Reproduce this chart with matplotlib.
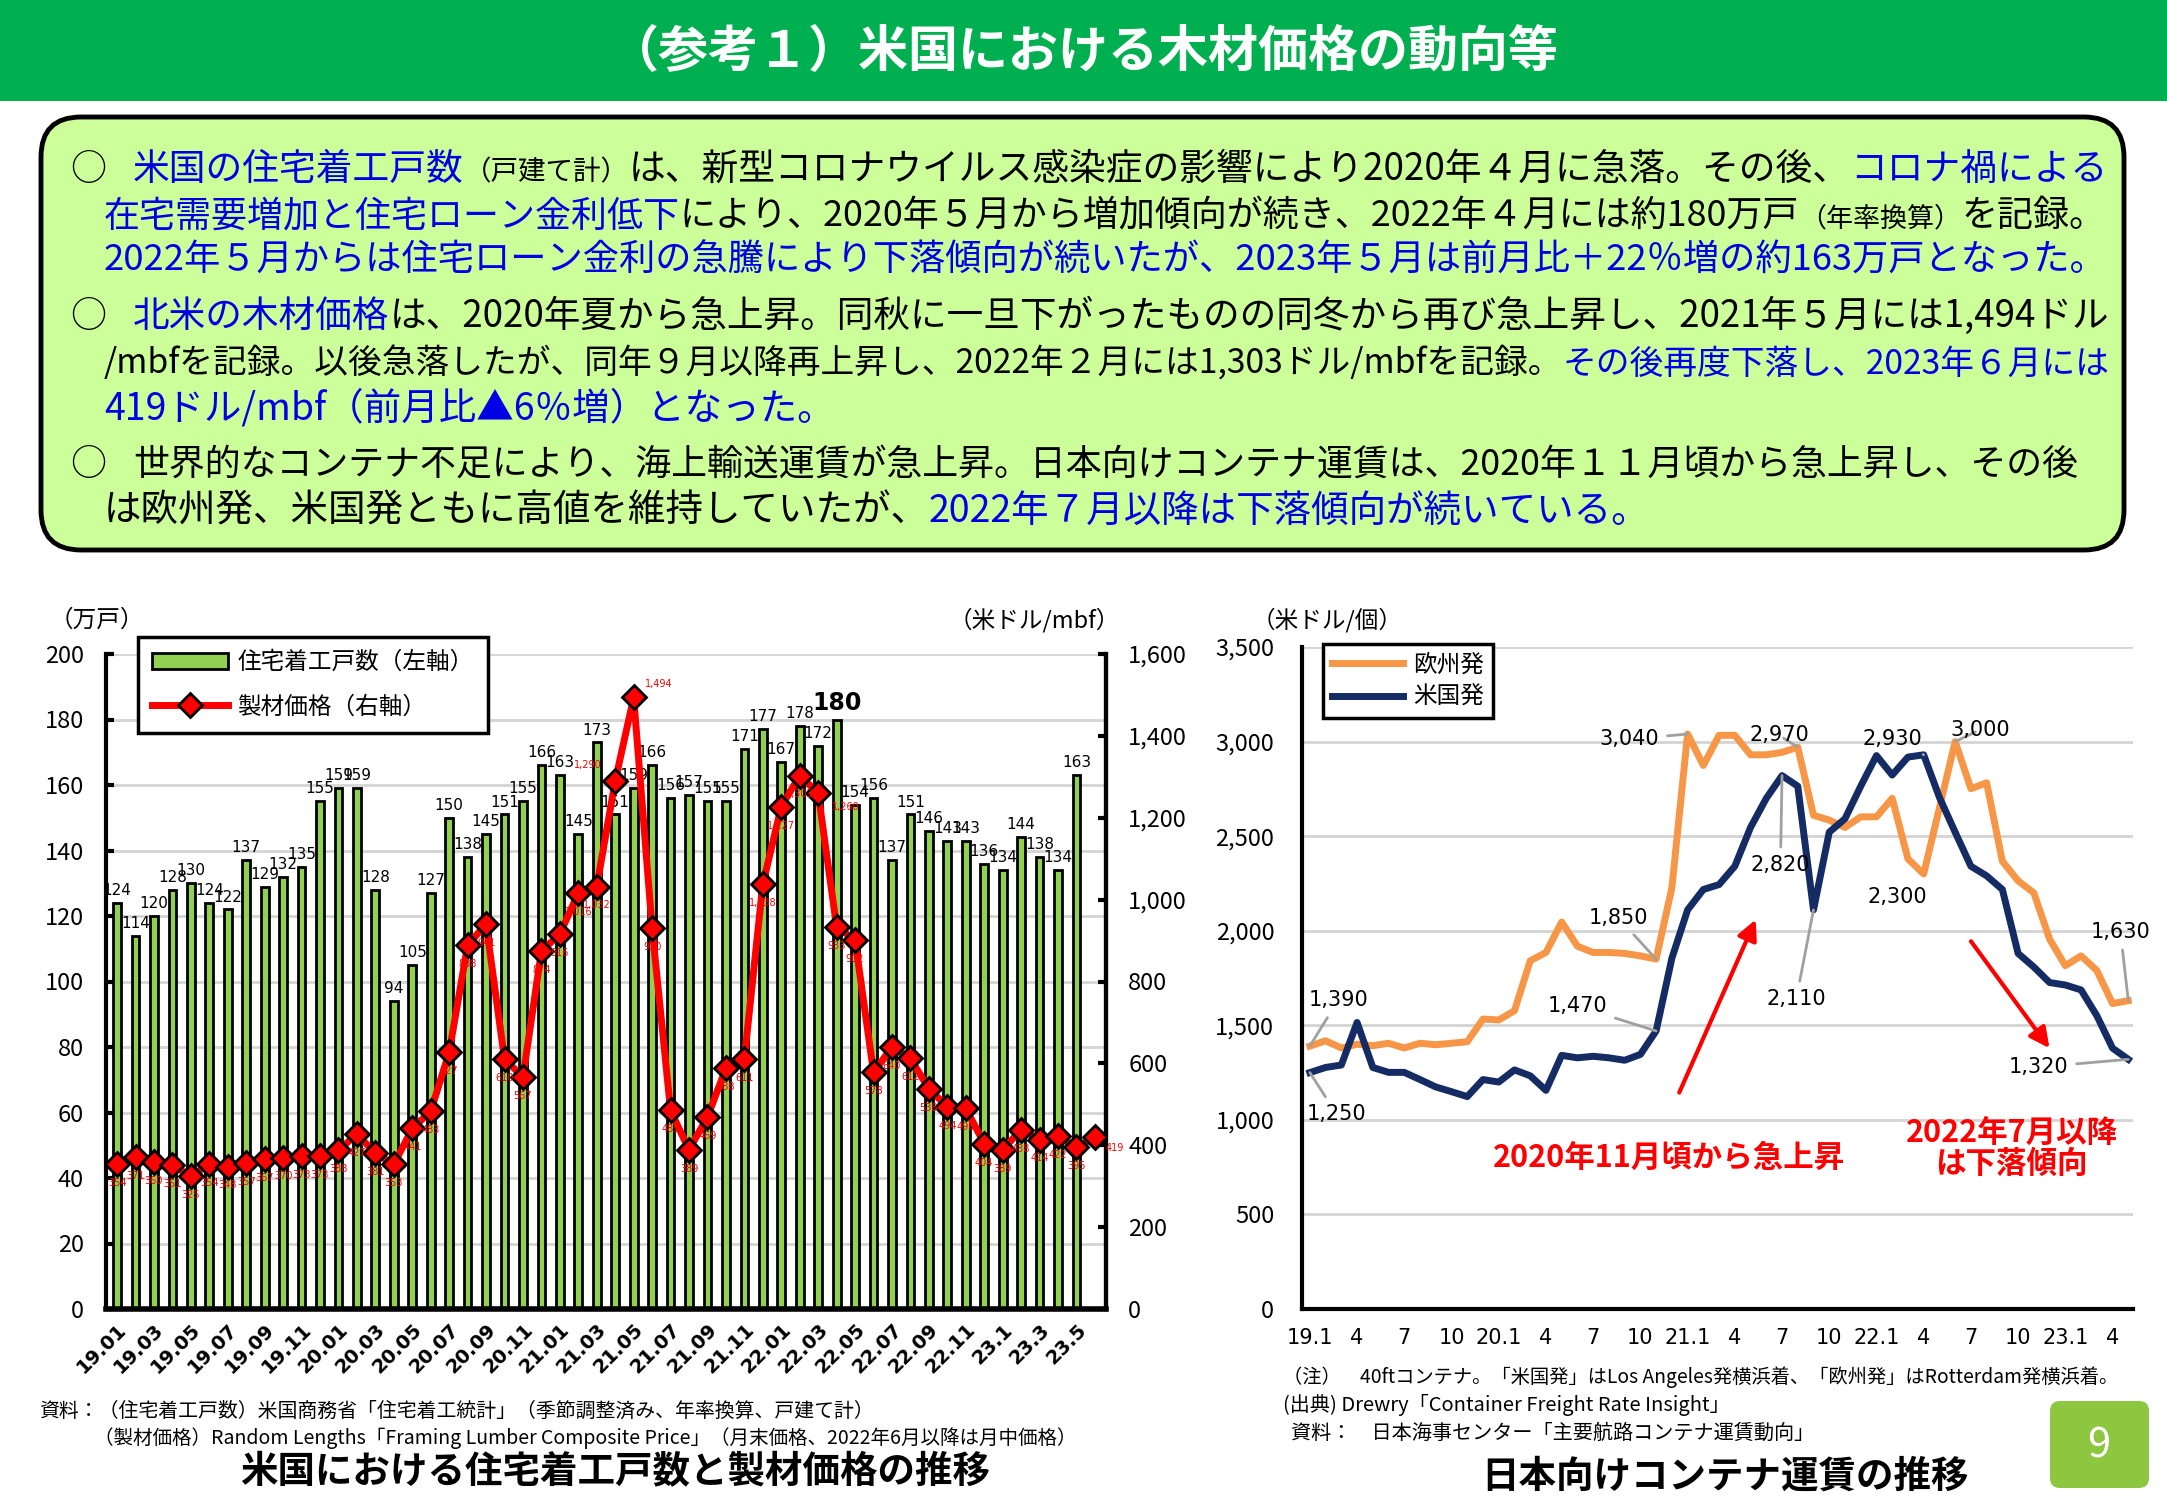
import numpy as np
import matplotlib
matplotlib.use('Agg')
import matplotlib.pyplot as plt
from matplotlib.patches import FancyBboxPatch, Rectangle, Patch
from matplotlib.lines import Line2D
from matplotlib.ticker import MultipleLocator, FuncFormatter

plt.rcParams['font.family'] = ['Noto Sans CJK JP', 'DejaVu Sans']

W, H = 2167, 1500

# ---- left chart: housing starts (万戸) 2019.01-2023.05, lumber price (米ドル/mbf) 2019.01-2023.06
starts = [124, 114, 120, 128, 130, 124, 122, 137, 129, 132, 135, 155,
          159, 159, 128, 94, 105, 127, 150, 138, 145, 151, 155, 166,
          163, 145, 173, 151, 159, 166, 156, 157, 155, 155, 171, 177,
          167, 178, 172, 180, 154, 156, 137, 151, 146, 143, 143, 136,
          134, 144, 138, 134, 163]
lumber = [354, 371, 360, 351, 325, 354, 348, 357, 367, 370, 373, 373,
          388, 427, 381, 353, 441, 483, 627, 888, 941, 610, 567, 874,
          916, 1016, 1032, 1290, 1494, 930, 485, 389, 469, 588, 611, 1038,
          1227, 1303, 1260, 933, 902, 578, 640, 612, 538, 494, 490, 404,
          389, 438, 414, 422, 395, 419]
left_ticks = ['19.01', '19.03', '19.05', '19.07', '19.09', '19.11', '20.01', '20.03',
              '20.05', '20.07', '20.09', '20.11', '21.01', '21.03', '21.05', '21.07',
              '21.09', '21.11', '22.01', '22.03', '22.05', '22.07', '22.09', '22.11',
              '23.1', '23.3', '23.5']

# ---- right chart: container freight (米ドル/個) 2019.1-2023.5
europe = [1390, 1418, 1380, 1400, 1392, 1405, 1380, 1405, 1397, 1405, 1413,
          1533, 1528, 1577, 1841, 1885, 2046, 1918, 1885, 1885, 1880, 1867, 1850,
          2226, 3040, 2874, 3033, 3033, 2930, 2930, 2943, 2970,
          2610, 2585, 2546, 2602, 2602, 2700, 2380, 2300, 2649, 3000,
          2751, 2782, 2367, 2264, 2200, 1956, 1815, 1867, 1790, 1615, 1630]
usa = [1250, 1277, 1290, 1515, 1277, 1251, 1251, 1213, 1174, 1149, 1123,
       1213, 1200, 1264, 1233, 1156, 1341, 1328, 1336, 1328, 1315, 1346, 1470,
       1854, 2110, 2218, 2244, 2341, 2546, 2700, 2820, 2764,
       2110, 2521, 2592, 2764, 2926, 2823, 2918, 2930, 2705, 2521,
       2341, 2290, 2218, 1880, 1808, 1726, 1713, 1687, 1551, 1379, 1320]
right_ticks = ['19.1', '4', '7', '10', '20.1', '4', '7', '10', '21.1', '4', '7', '10',
               '22.1', '4', '7', '10', '23.1', '4']

BLUE = '#0000E6'
GREEN_BAR = '#92D050'
ORANGE = '#F79646'
NAVY = '#152B64'

fig = plt.figure(figsize=(W / 100, H / 100), dpi=100, facecolor='white')

# background layer in pixel coordinates
bg = fig.add_axes([0, 0, 1, 1])
bg.set_xlim(0, W)
bg.set_ylim(H, 0)
bg.axis('off')
bg.set_zorder(-1)

bg.add_patch(Rectangle((0, 0), W, 101, color='#00B050', lw=0))
bg.text(W / 2, 52, '（参考１）米国における木材価格の動向等', color='white', fontsize=36,
        weight='bold', ha='center', va='center')
bg.add_patch(FancyBboxPatch((41, 117), 2083, 433, boxstyle='round,pad=0,rounding_size=40',
                            fc='#CCFF99', ec='black', lw=3.5))

renderer = fig.canvas.get_renderer()


def text_line(x, y, parts, size, right=None, weight='normal'):
    def draw(sz):
        xx = x
        objs = []
        for s, c, k in parts:
            t = bg.text(xx, y, s, color=c, fontsize=sz * k, va='baseline', ha='left',
                        weight=weight)
            objs.append(t)
            xx += t.get_window_extent(renderer).width
        return objs, xx
    objs, end = draw(size)
    if right is not None and end > right:
        for t in objs:
            t.remove()
        draw(size * (right - x) / (end - x))


K = 'black'
FS = 27
RIGHT = 2108
for yb in (180, 327, 475):
    bg.text(88, yb, '○', fontsize=26, ha='center', va='baseline', color='black')

text_line(133, 180, [('米国の住宅着工戸数', BLUE, 1), ('（戸建て計）', K, 0.75),
                     ('は、新型コロナウイルス感染症の影響により2020年４月に急落。その後、', K, 1),
                     ('コロナ禍による', BLUE, 1)], FS, RIGHT)
text_line(104, 226, [('在宅需要増加と住宅ローン金利低下', BLUE, 1),
                     ('により、2020年５月から増加傾向が続き、2022年４月には約180万戸', K, 1),
                     ('（年率換算）', K, 0.75), ('を記録。', K, 1)], FS, RIGHT)
text_line(104, 271, [('2022年５月からは住宅ローン金利の急騰により下落傾向が続いたが、'
                      '2023年５月は前月比＋22％増の約163万戸となった。', BLUE, 1)], FS, RIGHT)
text_line(133, 327, [('北米の木材価格', BLUE, 1),
                     ('は、2020年夏から急上昇。同秋に一旦下がったものの同冬から再び急上昇し、'
                      '2021年５月には1,494ドル', K, 1)], FS, RIGHT)
text_line(104, 374, [('/mbfを記録。以後急落したが、同年９月以降再上昇し、2022年２月には'
                      '1,303ドル/mbfを記録。', K, 1),
                     ('その後再度下落し、2023年６月には', BLUE, 1)], FS, RIGHT)
text_line(104, 419, [('419ドル/mbf（前月比▲6％増）となった。', BLUE, 1)], FS, RIGHT)
text_line(133, 475, [('世界的なコンテナ不足により、海上輸送運賃が急上昇。日本向けコンテナ運賃は、'
                      '2020年１１月頃から急上昇し、その後', K, 1)], FS, 2080)
text_line(104, 522, [('は欧州発、米国発ともに高値を維持していたが、', K, 1),
                     ('2022年７月以降は下落傾向が続いている。', BLUE, 1)], FS, RIGHT)

# ---------------- left chart ----------------
axL = fig.add_axes([106 / W, 1 - 1309 / H, 1000 / W, 655 / H])
axL.set_facecolor('none')
xb = np.arange(len(starts))
xl = np.arange(len(lumber))
axL.bar(xb, starts, width=0.42, color=GREEN_BAR, edgecolor='black', linewidth=2, zorder=2)
axL.set_ylim(0, 200)
axL.set_xlim(-0.6, len(lumber) - 0.4)
axL.yaxis.set_major_locator(MultipleLocator(20))
axL.grid(axis='y', color='#d4d4d4', lw=2)
axL.set_axisbelow(True)
for i, v in enumerate(starts):
    if v == max(starts):
        axL.text(i, v + 1.5, str(v), ha='center', va='bottom', fontsize=17, weight='bold',
                 family='DejaVu Sans')
    else:
        axL.text(i, v + 1.5, str(v), ha='center', va='bottom', fontsize=11,
                 family='DejaVu Sans')
axL.set_xticks(xl[::2])
axL.set_xticklabels(left_ticks, rotation=45, ha='right', rotation_mode='anchor',
                    fontsize=14, weight='bold', family='DejaVu Sans')
axL.tick_params(axis='x', length=0, pad=8)
axL.tick_params(axis='y', direction='in', length=6, width=3, pad=16, labelsize=17)
axL.spines['top'].set_visible(False)
for s in ('left', 'right'):
    axL.spines[s].set_linewidth(3)
axL.spines['bottom'].set_linewidth(4)

ax2 = axL.twinx()
ax2.plot(xl, lumber, color='red', lw=5, marker='D', ms=12, mfc='red', mec='black', mew=2,
         zorder=3)
ax2.set_ylim(0, 1600)
ax2.yaxis.set_major_locator(MultipleLocator(200))
ax2.yaxis.set_major_formatter(FuncFormatter(lambda v, p: f'{v:,.0f}'))
ax2.tick_params(axis='y', direction='in', length=6, width=3, pad=16, labelsize=17)
ax2.spines['top'].set_visible(False)
ax2.spines['right'].set_linewidth(3)
# a few price labels sit beside their marker instead of below it
side_labels = {27: (-10, 8, 'right', 'bottom'), 28: (8, 6, 'left', 'bottom'),
               38: (10, -6, 'left', 'top'), 53: (8, -4, 'left', 'top')}
for i, v in enumerate(lumber):
    dx, dy, ha, va = side_labels.get(i, (0, -10, 'center', 'top'))
    ax2.annotate(f'{v:,}', (i, v), xytext=(dx, dy), textcoords='offset points',
                 ha=ha, va=va, fontsize=7, color='red', family='DejaVu Sans')

bg.text(97, 620, '（万戸）', fontsize=17, ha='center', va='center')
bg.text(1034, 620, '（米ドル/mbf）', fontsize=17, ha='center', va='center')

legL = fig.legend([Patch(fc=GREEN_BAR, ec='black', lw=2),
                   Line2D([], [], color='red', lw=5, marker='D', ms=12, mfc='red',
                          mec='black', mew=2)],
                  ['住宅着工戸数（左軸）', '製材価格（右軸）'], loc='upper left',
                  bbox_to_anchor=(138 / W, 1 - 637 / H), fontsize=17, fancybox=False,
                  edgecolor='black', framealpha=1, borderpad=0.6, labelspacing=0.9,
                  handlelength=3.2, handletextpad=0.4, borderaxespad=0)
legL.get_frame().set_linewidth(2.5)

text_line(39, 1417, [('資料：（住宅着工戸数）米国商務省「住宅着工統計」（季節調整済み、年率換算、戸建て計）', K, 1)],
          14.5, 873)
text_line(94, 1444, [('（製材価格）Random Lengths「Framing Lumber Composite Price」（月末価格、2022年6月以降は月中価格）', K, 1)],
          14.5, 1078)
bg.text(615, 1472, '米国における住宅着工戸数と製材価格の推移', fontsize=27, weight='bold',
        ha='center', va='center')

# ---------------- right chart ----------------
axR = fig.add_axes([1302 / W, 1 - 1309 / H, 831 / W, 662 / H])
axR.set_facecolor('none')
xr = np.arange(len(europe))
axR.plot(xr, europe, color=ORANGE, lw=5, solid_joinstyle='round', zorder=3)
axR.plot(xr, usa, color=NAVY, lw=5, solid_joinstyle='round', zorder=3)
axR.set_ylim(0, 3500)
axR.set_xlim(-0.5, 52.3)
axR.yaxis.set_major_locator(MultipleLocator(500))
axR.yaxis.set_major_formatter(FuncFormatter(lambda v, p: f'{v:,.0f}'))
axR.grid(axis='y', color='#d4d4d4', lw=2)
axR.set_axisbelow(True)
axR.set_xticks(xr[::3])
axR.set_xticklabels(right_ticks, fontsize=15, family='DejaVu Sans')
axR.tick_params(axis='x', length=0, pad=14)
axR.tick_params(axis='y', length=0, pad=20, labelsize=17)
axR.spines['top'].set_visible(False)
axR.spines['right'].set_visible(False)
axR.spines['left'].set_linewidth(3)
axR.spines['bottom'].set_linewidth(3)

# value labels: (text, series, point index, text x, text y)
callouts = [('1,390', europe, 0, 1.8, 1633), ('1,250', usa, 0, 1.7, 1030),
            ('1,850', europe, 22, 19.6, 2068), ('1,470', usa, 22, 17.0, 1601),
            ('3,040', europe, 24, 20.3, 3012), ('2,970', europe, 31, 29.8, 3034),
            ('2,820', usa, 30, 29.9, 2346), ('2,110', usa, 32, 30.9, 1637),
            ('2,930', usa, 39, 37.0, 3012), ('3,000', europe, 41, 42.6, 3063),
            ('1,630', europe, 52, 51.5, 1995), ('1,320', usa, 52, 46.3, 1279)]
for lab, ser, pi, tx, ty in callouts:
    axR.annotate(lab, (pi, ser[pi]), xytext=(tx, ty), ha='center', va='center', fontsize=15,
                 family='DejaVu Sans',
                 arrowprops=dict(arrowstyle='-', color='#a0a0a0', lw=2, shrinkA=4, shrinkB=0))
axR.text(37.3, 2179, '2,300', ha='center', va='center', fontsize=15, family='DejaVu Sans')

axR.annotate('', xy=(28.4, 2072), xytext=(23.4, 1131),
             arrowprops=dict(arrowstyle='-|>', color='red', lw=3, mutation_scale=30))
axR.annotate('', xy=(47.1, 1367), xytext=(41.9, 1956),
             arrowprops=dict(arrowstyle='-|>', color='red', lw=3, mutation_scale=30))
axR.text(22.8, 800, '2020年11月頃から急上昇', color='red', fontsize=22, weight='bold',
         ha='center', va='center')
axR.text(44.6, 850, '2022年7月以降\nは下落傾向', color='red', fontsize=22, weight='bold',
         ha='center', va='center', linespacing=0.95)

bg.text(1327, 620, '（米ドル/個）', fontsize=17, ha='center', va='center')
legR = fig.legend([Line2D([], [], color=ORANGE, lw=5), Line2D([], [], color=NAVY, lw=5)],
                  ['欧州発', '米国発'], loc='upper left', bbox_to_anchor=(1323 / W, 1 - 644 / H),
                  fontsize=17, fancybox=False, edgecolor='black', framealpha=1,
                  borderpad=0.4, labelspacing=0.4, handlelength=3, handletextpad=0.4,
                  borderaxespad=0)
legR.get_frame().set_linewidth(2.5)

text_line(1283, 1383, [('（注）　40ftコンテナ。「米国発」はLos Angeles発横浜着、「欧州発」はRotterdam発横浜着。', K, 1)],
          14.5, 2119)
text_line(1283, 1411, [('(出典) Drewry「Container Freight Rate Insight」', K, 1)], 14.5, 2000)
text_line(1291, 1439, [('資料：　日本海事センター「主要航路コンテナ運賃動向」', K, 1)], 14.5, 2000)
bg.text(1725, 1476, '日本向けコンテナ運賃の推移', fontsize=27, weight='bold',
        ha='center', va='center')

bg.add_patch(FancyBboxPatch((2050, 1401), 99, 87, boxstyle='round,pad=0,rounding_size=10',
                            fc='#8DC63F', ec='none'))
bg.text(2099, 1446, '9', color='white', fontsize=30, ha='center', va='center')

fig.savefig('out.png', dpi=100)
